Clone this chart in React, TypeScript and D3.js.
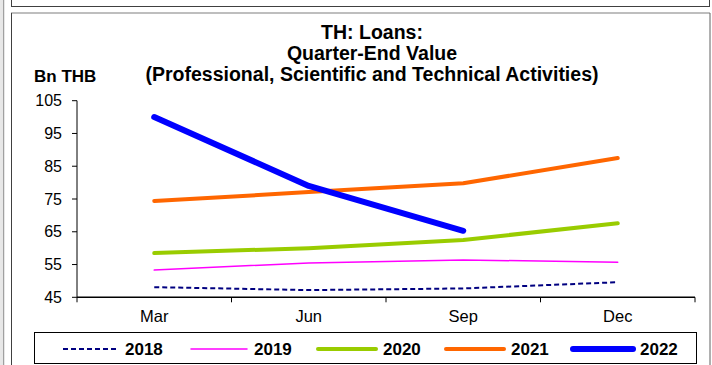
import React from "react";
import * as d3 from "d3";

const categories = ["Mar", "Jun", "Sep", "Dec"];
const years = ["2018", "2019", "2020", "2021", "2022"];
const values2018 = [48.1, 47.2, 47.7, 49.6];
const values2019 = [53.3, 55.5, 56.4, 55.7];
const values2020 = [58.5, 60.0, 62.5, 67.6];
const values2021 = [74.4, 77.1, 79.8, 87.5];
const values2022: (number | null)[] = [100.0, 79.0, 65.3, null];
const yTicks = [45, 55, 65, 75, 85, 95, 105];
const titleLines = ["TH: Loans:", "Quarter-End Value", "(Professional, Scientific and Technical Activities)"];

const seriesValues = [values2018, values2019, values2020, values2021, values2022];
const styles = [
  { color: "#000080", width: 2, dash: "5,3" },
  { color: "#FF00FF", width: 1.5, dash: null },
  { color: "#99CC00", width: 4, dash: null },
  { color: "#FF6600", width: 4, dash: null },
  { color: "#0000FF", width: 6, dash: null },
];

export default function App() {
  const W = 712, H = 365;
  const x0 = 77, x1 = 695, yTop = 100.7, yBot = 297.3;
  const band = d3.scaleBand<string>().domain(categories).range([x0, x1]);
  const y = d3.scaleLinear().domain([45, 105]).range([yBot, yTop]);
  const cx = (c: string) => (band(c) as number) + band.bandwidth() / 2;
  const line = d3
    .line<{ c: string; v: number | null }>()
    .defined((d) => d.v != null)
    .x((d) => cx(d.c))
    .y((d) => y(d.v as number));
  const font = "Liberation Sans, Arial, sans-serif";
  const legendX = [63, 191, 318, 446, 573];
  const legendLen = [55, 56, 58, 58, 60];
  return (
    <svg
      width={W}
      height={H}
      style={{ position: "absolute", left: 0, top: 0, display: "block" }}
      fontFamily={font}
    >
      <rect x={0} y={0} width={W} height={H} fill="#ffffff" />
      <line x1={1} y1={0} x2={1} y2={H} stroke="#d0d0d0" strokeWidth={1} />
      <line x1={3.5} y1={0} x2={3.5} y2={H} stroke="#a0a0a0" strokeWidth={1.5} />
      <rect x={11.5} y={-10} width={698} height={16.5} fill="none" stroke="#404040" strokeWidth={1} />
      <line x1={11} y1={13} x2={710} y2={13} stroke="#a8a8a8" strokeWidth={1.5} />
      <line x1={11.5} y1={13} x2={11.5} y2={H} stroke="#404040" strokeWidth={1} />
      <line x1={710} y1={13} x2={710} y2={H} stroke="#606060" strokeWidth={1} />
      {titleLines.map((t, i) => (
        <text key={i} x={372} y={38.5 + i * 21} textAnchor="middle" fontWeight="bold" fontSize={19.5}>
          {t}
        </text>
      ))}
      <text x={34} y={82} fontWeight="bold" fontSize={17}>Bn THB</text>
      {/* y axis */}
      <line x1={x0} y1={yTop} x2={x0} y2={yBot} stroke="#000" strokeWidth={1} />
      {yTicks.map((t) => (
        <g key={t}>
          <line x1={x0 - 5} x2={x0} y1={y(t)} y2={y(t)} stroke="#000" />
          <text x={62} y={y(t) + 5.5} textAnchor="end" fontSize={16}>{t}</text>
        </g>
      ))}
      {/* x axis */}
      <line x1={x0} y1={yBot} x2={x1} y2={yBot} stroke="#000" strokeWidth={1.5} />
      {[...categories.map((c) => band(c) as number), x1].map((v, i) => (
        <line key={i} x1={v} x2={v} y1={yBot} y2={yBot + 5} stroke="#000" />
      ))}
      {categories.map((c) => (
        <text key={c} x={cx(c)} y={322} textAnchor="middle" fontSize={16.5}>{c}</text>
      ))}
      {seriesValues.map((vals, i) => (
        <path
          key={years[i]}
          d={line(categories.map((c, j) => ({ c, v: vals[j] }))) || ""}
          fill="none"
          stroke={styles[i].color}
          strokeWidth={styles[i].width}
          strokeDasharray={styles[i].dash || undefined}
          strokeLinecap={styles[i].dash ? "butt" : "round"}
          strokeLinejoin="round"
        />
      ))}
      {/* legend */}
      <rect x={34.5} y={332.5} width={662} height={31} fill="#fff" stroke="#000" strokeWidth={1} />
      {years.map((yr, i) => (
        <g key={yr}>
          <line
            x1={legendX[i]}
            x2={legendX[i] + legendLen[i]}
            y1={349}
            y2={349}
            stroke={styles[i].color}
            strokeWidth={styles[i].width}
            strokeDasharray={styles[i].dash || undefined}
            strokeLinecap={styles[i].dash ? "butt" : "round"}
          />
          <text x={legendX[i] + legendLen[i] + 7} y={355} fontWeight="bold" fontSize={17}>{yr}</text>
        </g>
      ))}
    </svg>
  );
}
